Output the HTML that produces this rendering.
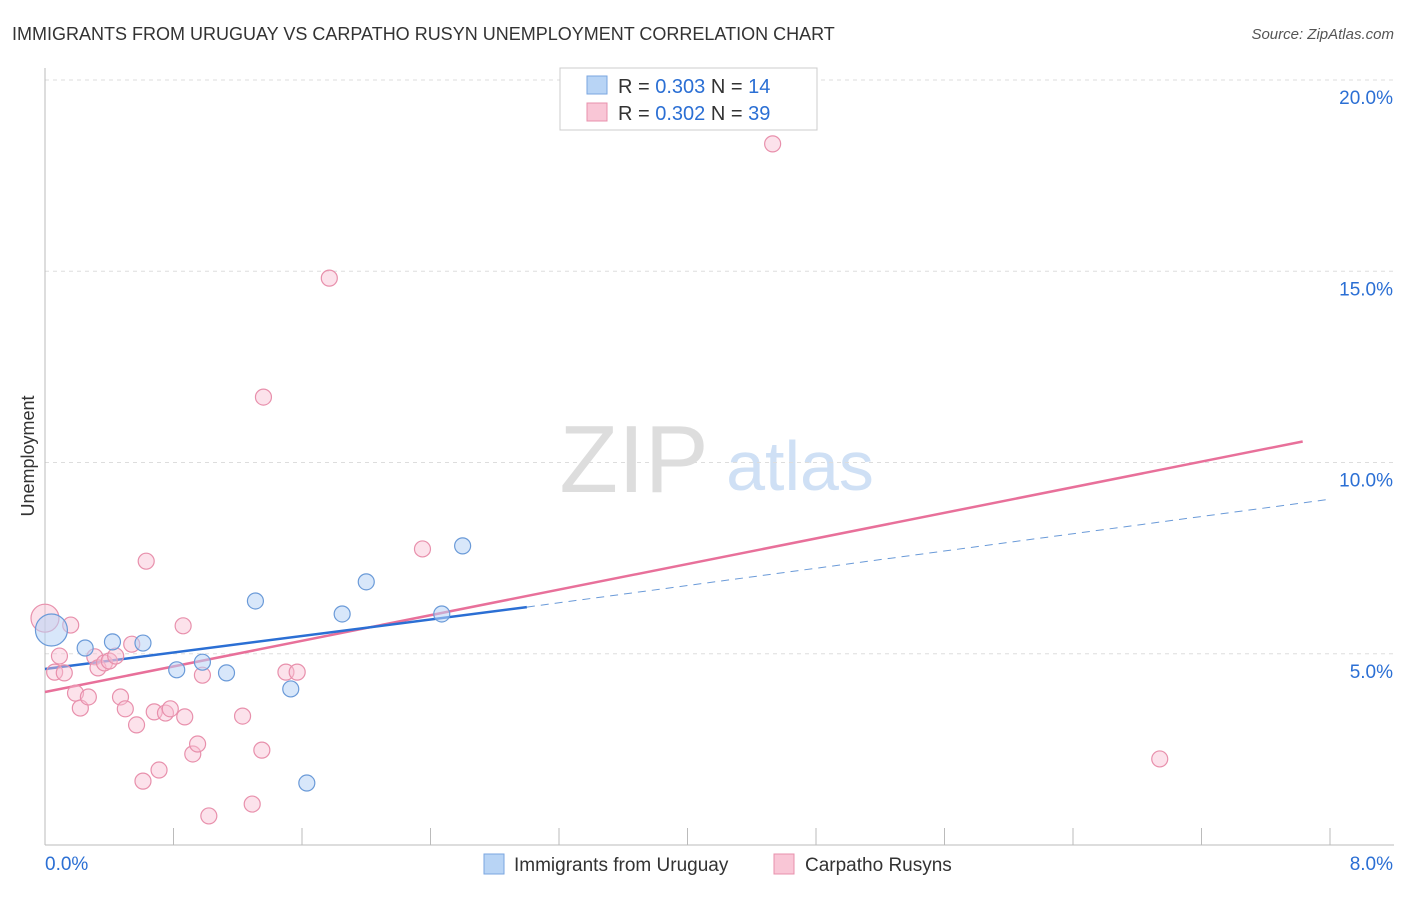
<!DOCTYPE html>
<html><head><meta charset="utf-8"><style>
body{margin:0;background:#fff;font-family:"Liberation Sans",sans-serif;}
svg text{font-family:"Liberation Sans",sans-serif;}
</style></head><body>
<svg id="chart" width="1406" height="892" xmlns="http://www.w3.org/2000/svg">
<text x="12" y="40" font-size="18" fill="#333">IMMIGRANTS FROM URUGUAY VS CARPATHO RUSYN UNEMPLOYMENT CORRELATION CHART</text>
<text x="1394" y="39" font-size="15" fill="#555" font-style="italic" text-anchor="end">Source: ZipAtlas.com</text>
<text x="634" y="492" font-size="96" fill="#ddd" font-family="Liberation Serif" text-anchor="middle">ZIP</text>
<text x="800" y="490" font-size="70" fill="#cfe0f5" text-anchor="middle">atlas</text>
<text x="34" y="456" font-size="18" fill="#333" text-anchor="middle" transform="rotate(-90 34 456)">Unemployment</text>
<g id="grid"></g><g id="axes"></g><g id="lines"></g><g id="pts"></g>
<g>
<rect x="560" y="68" width="257" height="62" fill="#fff" stroke="#ccc"/>
<rect x="587" y="76" width="20" height="18" fill="#b8d4f5" stroke="#7aa6e0"/>
<text x="618" y="93" font-size="20" fill="#333">R = <tspan fill="#2b6fd4">0.303</tspan>   N = <tspan fill="#2b6fd4">14</tspan></text>
<rect x="587" y="103" width="20" height="18" fill="#f9c6d6" stroke="#e890ac"/>
<text x="618" y="120" font-size="20" fill="#333">R = <tspan fill="#2b6fd4">0.302</tspan>   N = <tspan fill="#2b6fd4">39</tspan></text>
</g>
<g>
<rect x="484" y="854" width="20" height="20" fill="#b8d4f5" stroke="#7aa6e0"/>
<text x="514" y="871" font-size="19" fill="#333">Immigrants from Uruguay</text>
<rect x="774" y="854" width="20" height="20" fill="#f9c6d6" stroke="#e890ac"/>
<text x="805" y="871" font-size="19" fill="#333">Carpatho Rusyns</text>
</g>
</svg>
<script>
const blueX=[0.04,0.25,0.42,0.61,0.82,0.98,1.13,1.31,1.53,1.63,1.85,2.0,2.47,2.6];
const blueY=[5.62,5.15,5.31,5.28,4.58,4.78,4.5,6.38,4.08,1.62,6.04,6.88,6.04,7.82];
const pinkX=[0.0,0.06,0.09,0.16,0.12,0.19,0.22,0.27,0.31,0.33,0.37,0.4,0.44,0.47,0.5,0.54,0.57,0.61,0.63,0.68,0.71,0.75,0.78,0.86,0.87,0.92,0.95,0.98,1.02,1.23,1.29,1.35,1.36,1.5,1.57,1.77,2.35,4.53,6.94];
const pinkY=[5.93,4.52,4.94,5.75,4.5,3.97,3.58,3.87,4.92,4.63,4.76,4.81,4.94,3.87,3.56,5.25,3.14,1.67,7.42,3.48,1.96,3.45,3.56,5.73,3.35,2.38,2.64,4.44,0.76,3.37,1.07,2.48,11.71,4.52,4.52,14.82,7.74,18.33,2.25];
const blueLine=[[0,4.6],[3.0,6.22]];
const blueDash=[[3.0,6.22],[8.0,9.04]];
const pinkLine=[[0,4.0],[7.83,10.55]];
const yTicks=[5,10,15,20];
const yTickLabels=["5.0%","10.0%","15.0%","20.0%"];
const NS="http://www.w3.org/2000/svg";
const sx=v=>45+v/8*1285, sy=v=>845-v*38.25;
function mk(t,a,p){const e=document.createElementNS(NS,t);for(const k in a)e.setAttribute(k,a[k]);p.appendChild(e);return e;}
const grid=document.getElementById('grid'),axes=document.getElementById('axes'),lines=document.getElementById('lines'),pts=document.getElementById('pts');
yTicks.forEach((t,i)=>{
 const l=mk('line',{x1:45,x2:1394,y1:sy(t),y2:sy(t),stroke:'#ddd','stroke-dasharray':'4,4'},grid);
 
 
 const tx=mk('text',{x:1393,y:sy(t)+24,'font-size':19,fill:'#2b6fd4','text-anchor':'end'},axes);
 tx.textContent=yTickLabels[i];
 
 
});
const ya=mk('line',{x1:45,x2:45,y1:68,y2:845,stroke:'#bbb'},axes);


const xa=mk('line',{x1:45,x2:1394,y1:845,y2:845,stroke:'#bbb'},axes);


for(let i=0;i<=10;i++){const t=mk('line',{x1:sx(i*0.8),x2:sx(i*0.8),y1:828,y2:845,stroke:'#bbb'},axes);
 
 }
[["0.0%",45,'start'],["8.0%",1393,'end']].forEach(([s,x,a])=>{const t=mk('text',{x:x,y:870,'font-size':19,fill:'#2b6fd4','text-anchor':a},axes);t.textContent=s;
 
 });
function ln(d,c,w,dash,name){const l=mk('line',{x1:sx(d[0][0]),y1:sy(d[0][1]),x2:sx(d[1][0]),y2:sy(d[1][1]),stroke:c,'stroke-width':w},lines);if(dash)l.setAttribute('stroke-dasharray',dash);
 
 }
pinkX.forEach((x,i)=>{const c=mk('circle',{cx:sx(x),cy:sy(pinkY[i]),r:i==0?14:8,fill:'rgba(249,190,210,0.45)',stroke:'#e890ac','stroke-width':1.2},pts);
 
 });
blueX.forEach((x,i)=>{const c=mk('circle',{cx:sx(x),cy:sy(blueY[i]),r:i==0?16:8,fill:'rgba(184,212,245,0.55)',stroke:'#6a9ad8','stroke-width':1.2},pts);
 
 });
ln(pinkLine,'#e8709a',2.5,null,'carpatho-trendline');
ln(blueLine,'#2b6fd4',2.5,null,'uruguay-trendline');
ln(blueDash,'#6a9ad8',1,'8,6','uruguay-trendline-extension');
</script>
</body></html>
